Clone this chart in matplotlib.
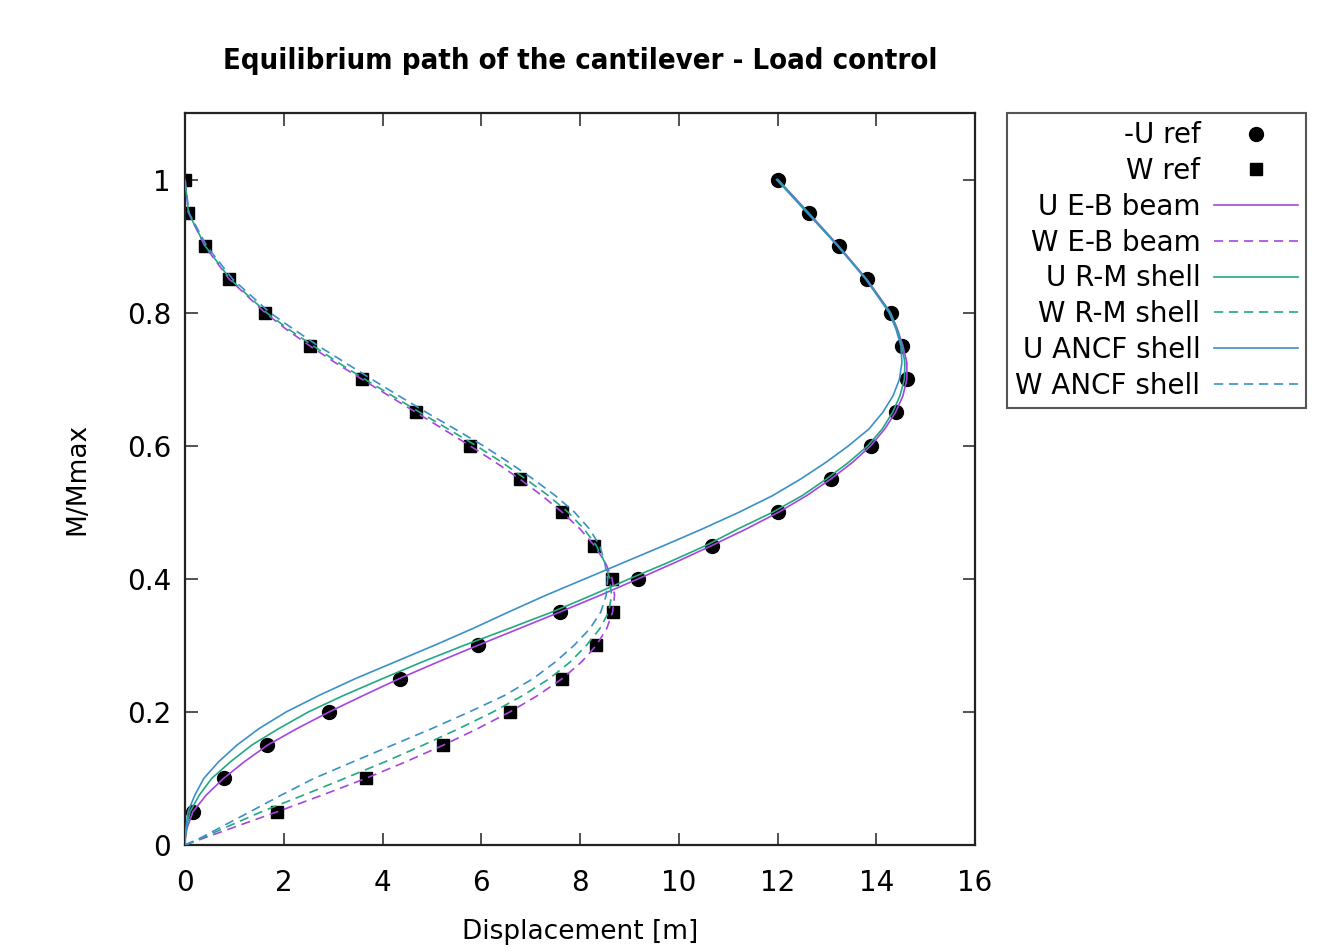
import numpy as np
import matplotlib
matplotlib.use("Agg")
import matplotlib.pyplot as plt

# reference solution (markers)
ref_load = [0.05, 0.1, 0.15, 0.2, 0.25, 0.3, 0.35, 0.4, 0.45, 0.5,
            0.55, 0.6, 0.65, 0.7, 0.75, 0.8, 0.85, 0.9, 0.95, 1.0]
u_ref = [0.17, 0.78, 1.67, 2.92, 4.35, 5.93, 7.59, 9.18, 10.67, 12.02,
         13.08, 13.89, 14.39, 14.62, 14.53, 14.29, 13.81, 13.24, 12.63, 12.01]
w_ref = [1.87, 3.66, 5.23, 6.58, 7.64, 8.33, 8.66, 8.65, 8.29, 7.64,
         6.78, 5.77, 4.68, 3.58, 2.53, 1.62, 0.90, 0.40, 0.07, 0.0]

# simulation results (lines)
load = [0, 0.01, 0.025, 0.05, 0.075, 0.1, 0.125, 0.15, 0.175, 0.2, 0.225, 0.25, 0.275,
        0.3, 0.325, 0.35, 0.375, 0.4, 0.425, 0.45, 0.475, 0.5, 0.525, 0.55, 0.575,
        0.6, 0.625, 0.65, 0.675, 0.7, 0.725, 0.75, 0.775, 0.8, 0.85, 0.9, 0.95, 1.0]
u_eb = [0, 0.006, 0.04, 0.16, 0.43, 0.78, 1.2, 1.67, 2.27, 2.92, 3.62, 4.34, 5.12,
        5.93, 6.76, 7.59, 8.40, 9.18, 9.94, 10.67, 11.37, 12.02, 12.59, 13.08, 13.52,
        13.89, 14.17, 14.39, 14.54, 14.62, 14.62, 14.54, 14.43, 14.29, 13.81, 13.24, 12.63, 12.01]
w_eb = [0, 0.37, 0.93, 1.87, 2.78, 3.66, 4.47, 5.23, 5.93, 6.58, 7.15, 7.64, 8.03,
        8.33, 8.54, 8.66, 8.70, 8.65, 8.51, 8.29, 8.0, 7.64, 7.23, 6.78, 6.29,
        5.77, 5.23, 4.68, 4.13, 3.58, 3.04, 2.53, 2.05, 1.62, 0.90, 0.40, 0.07, 0.0]
u_rm = [0, 0.004, 0.03, 0.10, 0.29, 0.54, 0.92, 1.35, 1.9, 2.5, 3.22, 4.0, 4.8,
        5.65, 6.55, 7.43, 8.23, 9.0, 9.8, 10.55, 11.2, 11.9, 12.5, 12.99, 13.44,
        13.83, 14.12, 14.33, 14.48, 14.57, 14.58, 14.52, 14.42, 14.28, 13.8, 13.23, 12.62, 12.0]
w_rm = [0, 0.32, 0.78, 1.55, 2.4, 3.23, 4.05, 4.82, 5.55, 6.24, 6.85, 7.38, 7.8,
        8.13, 8.4, 8.58, 8.64, 8.6, 8.5, 8.33, 8.08, 7.76, 7.36, 6.90, 6.42,
        5.90, 5.33, 4.76, 4.2, 3.64, 3.1, 2.60, 2.1, 1.65, 0.92, 0.41, 0.07, 0.0]
u_ancf = [0, 0.003, 0.02, 0.06, 0.2, 0.38, 0.68, 1.05, 1.5, 2.05, 2.72, 3.45, 4.25,
          5.05, 5.82, 6.55, 7.3, 8.1, 8.9, 9.7, 10.48, 11.22, 11.9, 12.47, 12.98,
          13.44, 13.85, 14.13, 14.34, 14.47, 14.52, 14.5, 14.4, 14.26, 13.79, 13.22, 12.6, 11.98]
w_ancf = [0, 0.3, 0.68, 1.32, 1.95, 2.61, 3.4, 4.2, 5.0, 5.76, 6.48, 7.05, 7.5,
          7.88, 8.2, 8.42, 8.53, 8.56, 8.5, 8.40, 8.19, 7.89, 7.5, 7.05, 6.56,
          6.04, 5.47, 4.89, 4.33, 3.78, 3.24, 2.70, 2.2, 1.72, 0.97, 0.44, 0.08, 0.0]

purple = '#a545e0'
green = '#22a882'
blue = '#3a90c8'
dash = (0, (5.5, 3.5))

plt.rcParams['font.family'] = ['DejaVu Sans']

fig = plt.figure(figsize=(13.42, 9.52), dpi=100)
ax = fig.add_axes([185 / 1342, 1 - 845 / 952, 790 / 1342, 732 / 952])

ax.plot(u_ref, ref_load, 'o', color='black', ms=10, label='-U ref', zorder=2)
ax.plot(w_ref, ref_load, 's', color='black', ms=9, label='W ref', zorder=2)
ax.plot(u_eb, load, color=purple, lw=1.2, label='U E-B beam', zorder=3)
ax.plot(w_eb, load, color=purple, lw=1.2, ls=dash, label='W E-B beam', zorder=3)
ax.plot(u_rm, load, color=green, lw=1.2, label='U R-M shell', zorder=3)
ax.plot(w_rm, load, color=green, lw=1.2, ls=dash, label='W R-M shell', zorder=3)
ax.plot(u_ancf, load, color=blue, lw=1.2, label='U ANCF shell', zorder=3)
ax.plot(w_ancf, load, color=blue, lw=1.2, ls=dash, label='W ANCF shell', zorder=3)

ax.set_xlim(0, 16)
ax.set_ylim(0, 1.1)
ax.set_xticks(np.arange(0, 17, 2))
ax.set_yticks([0, 0.2, 0.4, 0.6, 0.8, 1])
ax.set_yticklabels(['0', '0.2', '0.4', '0.6', '0.8', '1'])
ax.tick_params(direction='in', top=True, right=True, length=9, width=1.2,
               labelsize=20, color='#333333')
ax.tick_params(axis='x', pad=17)
ax.tick_params(axis='y', pad=10)
for s in ax.spines.values():
    s.set_linewidth(1.6)
    s.set_color('#222222')

ax.set_xlabel('Displacement [m]', fontsize=19, labelpad=16)
ax.set_ylabel('M/Mmax', fontsize=19, labelpad=26)
ax.set_title('Equilibrium path of the cantilever - Load control',
             fontsize=21, fontweight='bold', pad=32, fontstretch='condensed',
             family=['DejaVu Sans'])

leg = ax.legend(loc='upper left', bbox_to_anchor=(1007 / 1342, 1 - 113 / 952),
                bbox_transform=fig.transFigure, borderaxespad=0,
                markerfirst=False, fancybox=False, edgecolor='#555555',
                fontsize=20, labelspacing=0.28, handlelength=3.0,
                handletextpad=0.5, borderpad=0.3, framealpha=1)
leg.get_frame().set_linewidth(1.5)

fig.savefig('out.png', dpi=100)
